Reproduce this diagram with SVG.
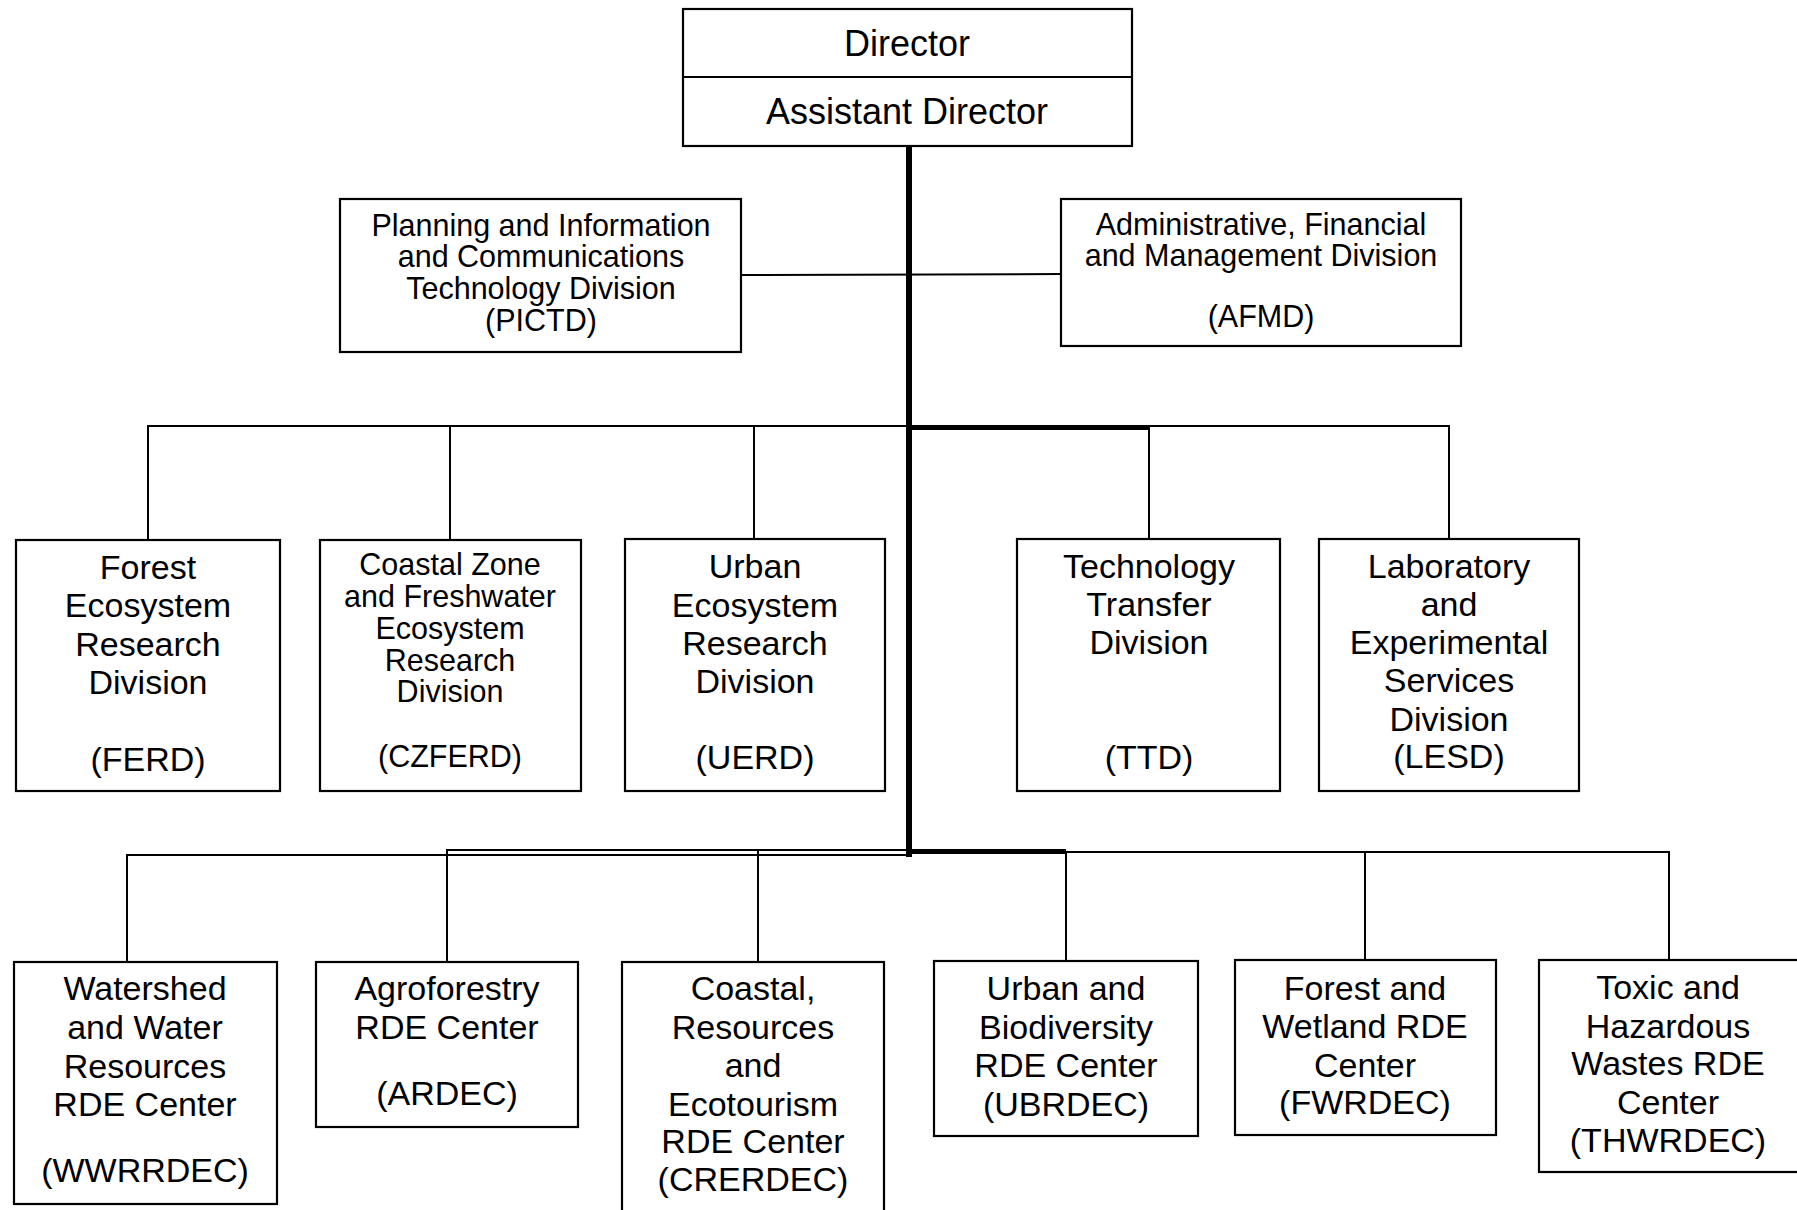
<svg xmlns="http://www.w3.org/2000/svg" width="1797" height="1210" viewBox="0 0 1797 1210">
<style>
.box{fill:#fff;stroke:#000;stroke-width:2.2}
.ln{fill:none;stroke:#000;stroke-width:2}
.thick{fill:none;stroke:#000;stroke-width:6}
.med{fill:none;stroke:#000;stroke-width:4}
text{font-family:"Liberation Sans",Arial,sans-serif;fill:#000;text-anchor:middle}
.t36{font-size:36px}
.t35{font-size:34px}
.t31{font-size:30.5px}
</style>
<rect width="1797" height="1210" fill="#fff"/>
<g id="connectors">
<line class="ln" x1="741" y1="275" x2="1061" y2="274"/>
<polyline class="ln" points="148,540 148,426 1449,426 1449,539"/>
<line class="ln" x1="450" y1="426" x2="450" y2="540"/>
<line class="ln" x1="754" y1="426" x2="754" y2="539"/>
<line class="ln" x1="1149" y1="426" x2="1149" y2="539"/>
<line class="med" x1="909" y1="428" x2="1149" y2="428"/>
<polyline class="ln" points="127,962 127,855 909,855"/>
<polyline class="ln" points="447,962 447,850 1066,850"/>
<line class="ln" x1="758" y1="850" x2="758" y2="962"/>
<line class="med" x1="909" y1="852" x2="1066" y2="852"/>
<polyline class="ln" points="1066,961 1066,852 1669,852 1669,960"/>
<line class="ln" x1="1365" y1="852" x2="1365" y2="960"/>
<line class="thick" x1="909" y1="146" x2="909" y2="857"/>
</g>
<g id="director">
<rect class="box" x="683" y="9" width="449" height="137"/>
<line class="ln" x1="683" y1="77" x2="1132" y2="77"/>
<text class="t36" x="907" y="56">Director</text>
<text class="t36" x="907" y="124">Assistant Director</text>
</g>
<g id="pictd">
<rect class="box" x="340" y="199" width="401" height="153"/>
<text class="t31" x="541" y="236">Planning and Information</text>
<text class="t31" x="541" y="267">and Communications</text>
<text class="t31" x="541" y="299">Technology Division</text>
<text class="t31" x="541" y="331">(PICTD)</text>
</g>
<g id="afmd">
<rect class="box" x="1061" y="199" width="400" height="147"/>
<text class="t31" x="1261" y="235">Administrative, Financial</text>
<text class="t31" x="1261" y="266">and Management Division</text>
<text class="t31" x="1261" y="327">(AFMD)</text>
</g>
<g id="ferd">
<rect class="box" x="16" y="540" width="264" height="251"/>
<text class="t35" x="148" y="579">Forest</text>
<text class="t35" x="148" y="617">Ecosystem</text>
<text class="t35" x="148" y="656">Research</text>
<text class="t35" x="148" y="694">Division</text>
<text class="t35" x="148" y="771">(FERD)</text>
</g>
<g id="czferd">
<rect class="box" x="320" y="540" width="261" height="251"/>
<text class="t31" x="450" y="575">Coastal Zone</text>
<text class="t31" x="450" y="607">and Freshwater</text>
<text class="t31" x="450" y="639">Ecosystem</text>
<text class="t31" x="450" y="671">Research</text>
<text class="t31" x="450" y="702">Division</text>
<text class="t31" x="450" y="767">(CZFERD)</text>
</g>
<g id="uerd">
<rect class="box" x="625" y="539" width="260" height="252"/>
<text class="t35" x="755" y="578">Urban</text>
<text class="t35" x="755" y="617">Ecosystem</text>
<text class="t35" x="755" y="655">Research</text>
<text class="t35" x="755" y="693">Division</text>
<text class="t35" x="755" y="769">(UERD)</text>
</g>
<g id="ttd">
<rect class="box" x="1017" y="539" width="263" height="252"/>
<text class="t35" x="1149" y="578">Technology</text>
<text class="t35" x="1149" y="616">Transfer</text>
<text class="t35" x="1149" y="654">Division</text>
<text class="t35" x="1149" y="769">(TTD)</text>
</g>
<g id="lesd">
<rect class="box" x="1319" y="539" width="260" height="252"/>
<text class="t35" x="1449" y="578">Laboratory</text>
<text class="t35" x="1449" y="616">and</text>
<text class="t35" x="1449" y="654">Experimental</text>
<text class="t35" x="1449" y="692">Services</text>
<text class="t35" x="1449" y="731">Division</text>
<text class="t35" x="1449" y="768">(LESD)</text>
</g>
<g id="wwrrdec">
<rect class="box" x="14" y="962" width="263" height="242"/>
<text class="t35" x="145" y="1000">Watershed</text>
<text class="t35" x="145" y="1039">and Water</text>
<text class="t35" x="145" y="1078">Resources</text>
<text class="t35" x="145" y="1116">RDE Center</text>
<text class="t35" x="145" y="1182">(WWRRDEC)</text>
</g>
<g id="ardec">
<rect class="box" x="316" y="962" width="262" height="165"/>
<text class="t35" x="447" y="1000">Agroforestry</text>
<text class="t35" x="447" y="1039">RDE Center</text>
<text class="t35" x="447" y="1105">(ARDEC)</text>
</g>
<g id="crerdec">
<rect class="box" x="622" y="962" width="262" height="260"/>
<text class="t35" x="753" y="1000">Coastal,</text>
<text class="t35" x="753" y="1039">Resources</text>
<text class="t35" x="753" y="1077">and</text>
<text class="t35" x="753" y="1116">Ecotourism</text>
<text class="t35" x="753" y="1153">RDE Center</text>
<text class="t35" x="753" y="1191">(CRERDEC)</text>
</g>
<g id="ubrdec">
<rect class="box" x="934" y="961" width="264" height="175"/>
<text class="t35" x="1066" y="1000">Urban and</text>
<text class="t35" x="1066" y="1039">Biodiversity</text>
<text class="t35" x="1066" y="1077">RDE Center</text>
<text class="t35" x="1066" y="1116">(UBRDEC)</text>
</g>
<g id="fwrdec">
<rect class="box" x="1235" y="960" width="261" height="175"/>
<text class="t35" x="1365" y="1000">Forest and</text>
<text class="t35" x="1365" y="1038">Wetland RDE</text>
<text class="t35" x="1365" y="1077">Center</text>
<text class="t35" x="1365" y="1114">(FWRDEC)</text>
</g>
<g id="thwrdec">
<rect class="box" x="1539" y="960" width="270" height="212"/>
<text class="t35" x="1668" y="999">Toxic and</text>
<text class="t35" x="1668" y="1038">Hazardous</text>
<text class="t35" x="1668" y="1075">Wastes RDE</text>
<text class="t35" x="1668" y="1114">Center</text>
<text class="t35" x="1668" y="1152">(THWRDEC)</text>
</g>
</svg>
